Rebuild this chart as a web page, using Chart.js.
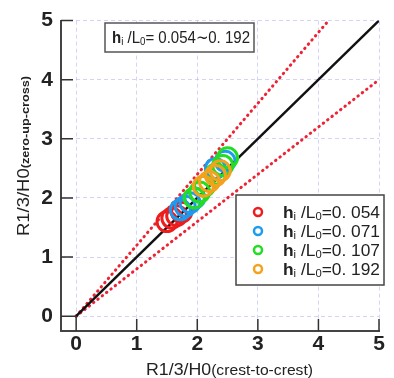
<!DOCTYPE html>
<html lang="en">
<head>
    <meta charset="UTF-8">
    <title>R1/3/H0 comparison</title>
    <script src="https://cdn.jsdelivr.net/npm/chart.js"></script>
    <style>
        html, body { margin: 0; padding: 0; background: #fff; }
        #wrap { width: 394px; height: 378px; }
    </style>
</head>
<body>
    <div id="wrap"><canvas id="runupChart" width="394" height="378"></canvas></div>

    <script>
        // values
        const tickValues = [0, 1, 2, 3, 4, 5];
        const waveSteepness = ['0. 054', '0. 071', '0. 107', '0. 192'];
        const seriesColors = ['#ee1c1c', '#1c9cf0', '#22dd22', '#f4a21c'];

        const red054X = [1.50, 1.58, 1.66, 1.74];
        const red054Y = [1.60, 1.66, 1.70, 1.76];
        const blue071X = [1.72, 1.80, 1.88, 1.96, 2.30, 2.46];
        const blue071Y = [1.80, 1.86, 1.92, 2.00, 2.50, 2.62];
        const green107X = [1.95, 2.04, 2.12, 2.30, 2.42, 2.50];
        const green107Y = [2.00, 2.10, 2.20, 2.40, 2.55, 2.68];
        const orange192X = [2.10, 2.20, 2.30, 2.38];
        const orange192Y = [2.20, 2.28, 2.38, 2.46];

        const oneToOneX = [0, 5];
        const upperX = [0, 4.17];   // +20%
        const lowerX = [0, 5];      // -20%

        const pts = (xs, ys) => xs.map((x, i) => ({ x: x, y: ys[i] }));
        const lineTo = (xs, k) => xs.map(x => ({ x: x, y: x * k }));

        // draw text made of parts with different sizes, squeezed to a target width
        function drawRich(ctx, parts, x, y, targetW, family) {
            let w = 0;
            parts.forEach(p => {
                ctx.font = (p.bold ? 'bold ' : '') + p.size + 'px ' + family;
                p.w = ctx.measureText(p.t).width;
                w += p.w;
            });
            const sx = targetW ? targetW / w : 1;
            ctx.save();
            ctx.translate(x, y);
            ctx.scale(sx, 1);
            let cx = 0;
            ctx.textBaseline = 'alphabetic';
            ctx.textAlign = 'left';
            parts.forEach(p => {
                ctx.font = (p.bold ? 'bold ' : '') + p.size + 'px ' + family;
                ctx.fillText(p.t, cx, p.dy || 0);
                cx += p.w;
            });
            ctx.restore();
        }

        function steepParts(val, size) {
            return [
                { t: 'h', size: size, bold: true },
                { t: 'i', size: size * 0.65, dy: 2 },
                { t: ' /L', size: size },
                { t: '0', size: size * 0.65, dy: 2 },
                { t: '=' + val, size: size }
            ];
        }

        const decorPlugin = {
            id: 'decor',
            afterDraw(chart) {
                const ctx = chart.ctx;
                const xs = chart.scales.x, ys = chart.scales.y;
                const area = chart.chartArea;
                const fam = '"Liberation Sans Narrow", "Liberation Sans", Arial, sans-serif';

                // inward tick marks
                ctx.save();
                ctx.strokeStyle = '#333';
                ctx.lineWidth = 1.5;
                ctx.beginPath();
                tickValues.forEach(v => {
                    const px = xs.getPixelForValue(v);
                    const len = v === 0 ? area.bottom - ys.getPixelForValue(0) : 12;
                    ctx.moveTo(px, area.bottom);
                    ctx.lineTo(px, area.bottom - len);
                    const py = ys.getPixelForValue(v);
                    const lenY = v === 0 ? xs.getPixelForValue(0) - area.left : 12;
                    ctx.moveTo(area.left, py);
                    ctx.lineTo(area.left + lenY, py);
                });
                ctx.stroke();

                // range box at top
                ctx.fillStyle = '#fff';
                ctx.fillRect(105, 23, 149, 29);
                ctx.strokeStyle = '#555';
                ctx.lineWidth = 1.5;
                ctx.strokeRect(105, 23, 149, 29);
                ctx.fillStyle = '#222';
                drawRich(ctx, [
                    { t: 'h', size: 17, bold: true },
                    { t: 'i', size: 11, dy: 2 },
                    { t: ' /L', size: 17 },
                    { t: '0', size: 11, dy: 2 },
                    { t: '= 0.054\u223C0. 192', size: 17 }
                ], 112, 43, 138, fam);

                // legend box
                ctx.fillStyle = '#fff';
                ctx.fillRect(236, 195, 148, 90);
                ctx.strokeStyle = '#444';
                ctx.lineWidth = 1.5;
                ctx.strokeRect(236, 195, 148, 90);
                waveSteepness.forEach((s, i) => {
                    const ry = 212 + i * 19;
                    ctx.beginPath();
                    ctx.strokeStyle = seriesColors[i];
                    ctx.lineWidth = 2.5;
                    ctx.arc(258, ry, 4, 0, Math.PI * 2);
                    ctx.stroke();
                    ctx.fillStyle = '#222';
                    drawRich(ctx, steepParts(s, 16), 283, ry + 6, 97, fam);
                });

                // axis titles
                ctx.fillStyle = '#222';
                drawRich(ctx, [
                    { t: 'R1/3/H0', size: 17 },
                    { t: '(crest-to-crest)', size: 15 }
                ], 146, 375, 167, fam);

                ctx.save();
                ctx.translate(29, 236);
                ctx.rotate(-Math.PI / 2);
                drawRich(ctx, [
                    { t: 'R1/3/H0', size: 16 },
                    { t: '(zero-up-cross)', size: 11, bold: true }
                ], 0, 0, 160, fam);
                ctx.restore();
                ctx.restore();
            }
        };

        const markers = [
            pts(red054X, red054Y), pts(blue071X, blue071Y),
            pts(green107X, green107Y), pts(orange192X, orange192Y)
        ];

        const datasets = markers.map((d, i) => ({
            type: 'scatter',
            data: d,
            borderColor: seriesColors[i],
            backgroundColor: 'rgba(0,0,0,0)',
            pointRadius: 10,
            pointBorderWidth: 3,
            pointStyle: 'circle',
            order: 4 - i
        }));

        datasets.push({
            type: 'line',
            data: lineTo(oneToOneX, 1),
            borderColor: '#111',
            borderWidth: 2.5,
            pointRadius: 0,
            order: 10
        });
        datasets.push({
            type: 'line',
            data: lineTo(upperX, 1.2),
            borderColor: '#ee2233',
            borderWidth: 3,
            borderDash: [0.5, 5],
            borderCapStyle: 'round',
            pointRadius: 0,
            order: 11
        });
        datasets.push({
            type: 'line',
            data: lineTo(lowerX, 0.8),
            borderColor: '#ee2233',
            borderWidth: 3,
            borderDash: [0.5, 5],
            borderCapStyle: 'round',
            pointRadius: 0,
            order: 12
        });

        const onlyIntegers = scale => {
            scale.ticks = tickValues.map(v => ({ value: v }));
        };

        const tickFont = { family: '"Liberation Sans Narrow", "Liberation Sans", Arial, sans-serif', size: 21, weight: 'bold' };
        const gridColor = 'rgba(160,160,235,0.45)';

        new Chart(document.getElementById('runupChart'), {
            type: 'scatter',
            data: { datasets: datasets },
            options: {
                responsive: false,
                animation: false,
                layout: { padding: { top: 12, right: 15, left: 0, bottom: 0 } },
                plugins: { legend: { display: false }, tooltip: { enabled: false } },
                scales: {
                    x: {
                        type: 'linear',
                        min: -0.25,
                        max: 5,
                        afterBuildTicks: onlyIntegers,
                        afterFit: s => { s.height = 47; },
                        grid: { color: gridColor, lineWidth: 1, drawTicks: false },
                        border: { display: true, color: '#444', width: 2, dash: [4, 3] },
                        ticks: { color: '#222', font: tickFont, padding: 1, maxRotation: 0 }
                    },
                    y: {
                        type: 'linear',
                        min: -0.25,
                        max: 5,
                        afterBuildTicks: onlyIntegers,
                        afterFit: s => { s.width = 61; },
                        grid: { color: gridColor, lineWidth: 1, drawTicks: false },
                        border: { display: true, color: '#444', width: 2, dash: [4, 3] },
                        ticks: { color: '#222', font: tickFont, padding: 8 }
                    }
                }
            },
            plugins: [decorPlugin]
        });
    </script>
</body>
</html>
